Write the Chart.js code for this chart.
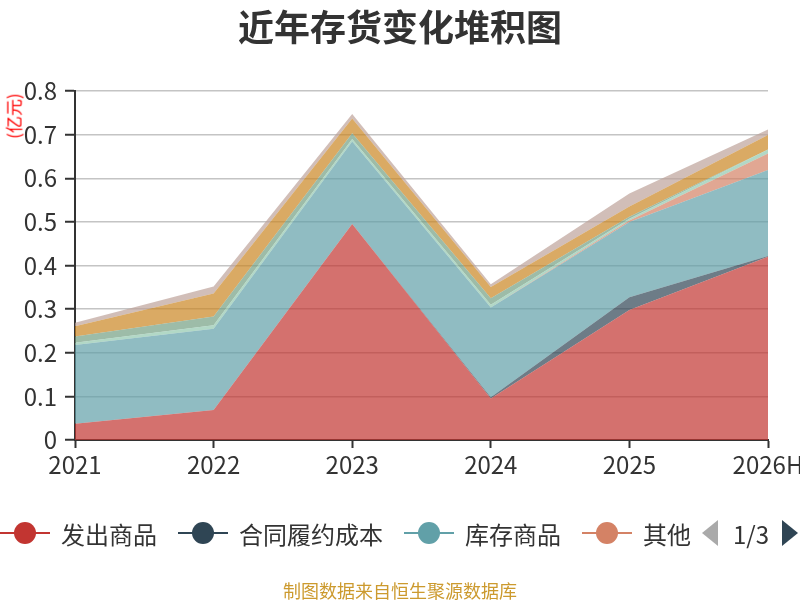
<!DOCTYPE html>
<html lang="zh">
  <head>
    <meta charset="UTF-8" />
    <title>近年存货变化堆积图</title>
    <style>
      body {
        margin: 0;
        width: 800px;
        height: 600px;
        position: relative;
        background: #fff;
        font-family: "Noto Sans CJK SC", "Noto Sans", sans-serif;
        overflow: hidden;
      }
      #myChart {
        position: absolute;
        left: 0;
        top: 0;
      }
      .title {
        position: absolute;
        top: 0;
        width: 800px;
        text-align: center;
        font-size: 36px;
        font-weight: bold;
        color: #333;
        line-height: 50px;
      }
      .unit {
        position: absolute;
        left: 13px;
        top: 116px;
        color: #ff0000;
        font-size: 17px;
        line-height: 17px;
        white-space: nowrap;
        transform: translate(-50%, -50%) rotate(-90deg);
      }
      .legend {
        position: absolute;
        left: 0;
        top: 517px;
        height: 32px;
        display: flex;
        align-items: center;
        font-size: 24px;
        color: #333;
        white-space: nowrap;
      }
      .item {
        display: flex;
        align-items: center;
        margin-right: 21px;
      }
      .item svg {
        margin-right: 11px;
      }
      .pager {
        position: absolute;
        top: 517px;
        left: 700px;
        height: 32px;
        display: flex;
        align-items: center;
        font-size: 24px;
        color: #333;
      }
      .footer {
        position: absolute;
        top: 577px;
        width: 800px;
        text-align: center;
        font-size: 18px;
        color: #cc9a2e;
      }
    </style>
  </head>
  <body>
    <canvas id="myChart" width="800" height="600"></canvas>
    <div class="title">近年存货变化堆积图</div>
    <div class="unit">(亿元)</div>
    <div class="legend" id="legend"></div>
    <div class="pager">
      <svg width="20" height="28"><polygon points="18,1 18,27 2,14" fill="#aaa" /></svg>
      <span style="margin: 0 12px 0 13px">1/3</span>
      <svg width="18" height="28"><polygon points="1,1 1,27 17,14" fill="#2f4554" /></svg>
    </div>
    <div class="footer">制图数据来自恒生聚源数据库</div>

    <script src="https://cdn.jsdelivr.net/npm/chart.js"></script>
    <script>
      // data (亿元)
      const years = ["2021", "2022", "2023", "2024", "2025", "2026H"];
      const names = [
        "发出商品",
        "合同履约成本",
        "库存商品",
        "其他",
        "原材料",
        "在产品",
        "周转材料",
        "委托加工物资",
      ];
      const fachu = [0.037, 0.069, 0.495, 0.095, 0.298, 0.42];
      const hetong = [0, 0, 0, 0.003, 0.029, 0.002];
      const kucun = [0.181, 0.186, 0.189, 0.206, 0.173, 0.197];
      const qita = [0, 0, 0, 0, 0.003, 0.038];
      const yuancailiao = [0.005, 0.008, 0.006, 0.006, 0.004, 0.009];
      const zaichanpin = [0.014, 0.02, 0.013, 0.015, 0.005, 0];
      const zhouzhuan = [0.024, 0.053, 0.034, 0.026, 0.023, 0.033];
      const weituo = [0.008, 0.016, 0.01, 0.006, 0.03, 0.013];
      const yTicks = [0, 0.1, 0.2, 0.3, 0.4, 0.5, 0.6, 0.7, 0.8];

      const allSeries = [fachu, hetong, kucun, qita, yuancailiao, zaichanpin, zhouzhuan, weituo];
      const colors = ["#c23531", "#2f4554", "#61a0a8", "#d48265", "#91c7ae", "#749f83", "#ca8622", "#bda29a"];

      function alpha(hex, a) {
        const n = parseInt(hex.slice(1), 16);
        return "rgba(" + (n >> 16) + "," + ((n >> 8) & 255) + "," + (n & 255) + "," + a + ")";
      }

      const datasets = allSeries.map((vals, i) => ({
        label: names[i],
        data: vals,
        backgroundColor: alpha(colors[i], 0.7),
        borderColor: colors[i],
        borderWidth: 0,
        pointRadius: 0,
        fill: i == 0 ? "origin" : "-1",
        tension: 0,
      }));

      // legend, first page only (4 items)
      const legend = document.getElementById("legend");
      for (var i = 0; i < 4; i++) {
        const it = document.createElement("div");
        it.className = "item";
        it.innerHTML =
          '<svg width="50" height="26"><line x1="0" y1="13" x2="50" y2="13" stroke="' +
          colors[i] + '" stroke-width="2"/><circle cx="25" cy="13" r="11" fill="' +
          colors[i] + '"/></svg><span>' + names[i] + "</span>";
        legend.appendChild(it);
      }

      const config = {
        type: "line",
        data: { labels: years, datasets: datasets },
        options: {
          responsive: false,
          animation: false,
          layout: { padding: { top: 91, right: 32, left: 0, bottom: 0 } },
          plugins: {
            legend: { display: false },
            tooltip: { enabled: false },
          },
          scales: {
            x: {
              offset: false,
              afterFit: (axis) => {
                axis.height = 160;
                axis.paddingRight = 0;
                axis.paddingLeft = 0;
              },
              border: { color: "#333", width: 2 },
              grid: {
                drawOnChartArea: false,
                tickColor: "#333",
                tickLength: 8,
                tickWidth: 2,
              },
              ticks: {
                color: "#333",
                padding: 2,
                maxRotation: 0,
                font: { size: 24, family: "'Noto Sans CJK SC', 'Noto Sans', sans-serif" },
              },
            },
            y: {
              stacked: true,
              min: 0,
              max: 0.8,
              afterFit: (axis) => {
                axis.width = 75;
              },
              afterBuildTicks: (axis) => {
                axis.ticks = yTicks.map((v) => ({ value: v }));
              },
              border: { color: "#333", width: 2 },
              grid: {
                color: "#c4c4c4",
                lineWidth: 1.5,
                tickColor: "#333",
                tickLength: 10,
                tickWidth: 2,
              },
              ticks: {
                color: "#333",
                padding: 8,
                font: { size: 24, family: "'Noto Sans CJK SC', 'Noto Sans', sans-serif" },
                callback: (v) => String(Math.round(v * 10) / 10),
              },
            },
          },
        },
      };
      const myChart = new Chart(document.getElementById("myChart"), config);
    </script>
  </body>
</html>
